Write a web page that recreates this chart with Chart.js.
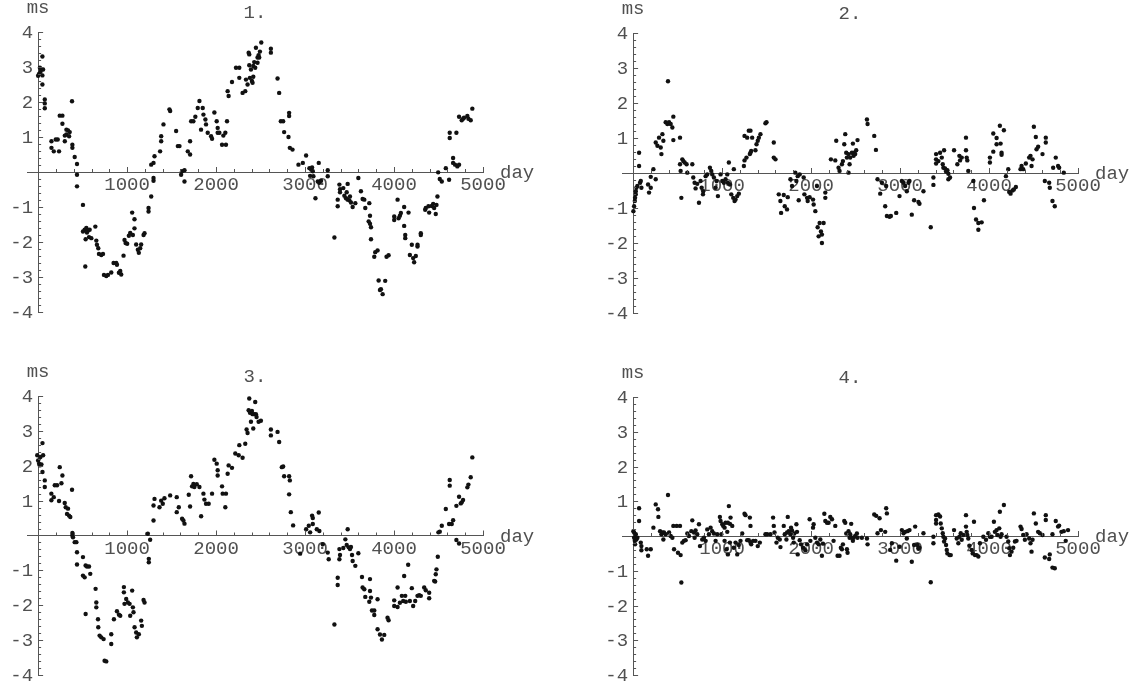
<!DOCTYPE html>
<html lang="en">
<head>
  <meta charset="UTF-8">
  <title>ms vs day</title>
  <script src="https://cdn.jsdelivr.net/npm/chart.js"></script>
  <style>
    body {
      margin: 0;
      background: #fff;
      width: 1142px;
      height: 691px;
      overflow: hidden;
      position: relative;
    }
    canvas {
      position: absolute;
    }
  </style>
</head>
<body>

<canvas id="c1" width="571" height="345" style="left:0;top:0"></canvas>
<canvas id="c2" width="571" height="345" style="left:571px;top:0"></canvas>
<canvas id="c3" width="571" height="346" style="left:0;top:345px"></canvas>
<canvas id="c4" width="571" height="346" style="left:571px;top:345px"></canvas>

<script>
  // tick labels on both axes
  const dayTicks = [1000, 2000, 3000, 4000, 5000];
  const msTicks = [-4, -3, -2, -1, 1, 2, 3, 4];
  const titles = ['1.', '2.', '3.', '4.'];

  // series 1
  const days1 = [0,10,20,26,37,48,56,48,48,75,
    75,75,150,150,176,198,220,235,243,273,
    273,300,300,318,318,336,355,348,381,385,
    385,411,437,437,437,504,504,523,530,542,
    549,560,572,579,598,534,643,654,661,676,
    684,710,729,740,766,785,822,848,878,886,
    908,923,934,960,971,983,1001,1020,1035,1057,
    1065,1083,1083,1102,1121,1132,1147,1158,1185,1196,
    1241,1241,1271,1297,1297,1271,1297,1308,1371,1383,
    1383,1409,1476,1484,1551,1570,1589,1618,1645,1607,
    1645,1682,1708,1708,1720,1745,1767,1794,1813,1831,
    1850,1858,1880,1887,1906,1944,1955,1981,2007,2018,
    2018,2037,2067,2082,2104,2111,2123,2130,2141,2179,
    2224,2261,2261,2298,2328,2336,2354,2366,2373,2373,
    2380,2392,2403,2410,2418,2418,2429,2440,2448,2466,
    2466,2478,2485,2493,2508,2616,2616,2691,2709,2728,
    2754,2765,2821,2821,2814,2829,2859,2926,2975,3012,
    3049,3068,3079,3087,3057,3094,3154,3143,3161,3180,
    3117,3255,3255,3330,3367,3367,3386,3393,3393,3430,
    3442,3460,3468,3479,3479,3498,3505,3516,3535,3565,
    3599,3628,3647,3666,3677,3722,3730,3715,3730,3741,
    3741,3778,3789,3815,3827,3853,3842,3872,3901,3916,
    3939,4002,4002,4040,4051,4066,4077,4114,4114,4126,
    4126,4163,4178,4200,4215,4226,4245,4264,4264,4301,
    4301,4350,4357,4387,4395,4424,4440,4451,4469,4477,
    4488,4496,4514,4537,4582,4619,4626,4626,4664,4664,
    4686,4701,4712,4731,4731,4761,4776,4787,4824,4836,
    4862,4880];
  const ms1 = [2.75,2.8,2.98,2.86,2.93,2.76,2.93,3.3,2.5,2.07,
    1.96,1.82,0.88,0.69,0.59,0.93,0.93,0.59,1.61,1.61,
    1.38,1.04,0.88,1.07,1.21,1.19,1.14,1.02,2.02,0.78,
    0.69,0.43,0.23,-0.08,-0.41,-0.94,-1.7,-1.65,-2.7,-1.6,
    -1.73,-1.67,-1.86,-1.65,-1.89,-1.92,-1.56,-1.96,-2.08,-2.18,
    -2.34,-2.37,-2.34,-2.94,-2.97,-2.94,-2.87,-2.6,-2.6,-2.65,
    -2.88,-2.83,-2.93,-2.39,-1.94,-2.03,-2.05,-1.82,-1.74,-1.16,
    -1.8,-1.35,-1.61,-2.07,-2.22,-2.31,-2.18,-2.07,-1.8,-1.75,
    -1.13,-1.03,-0.7,-0.25,-0.17,0.21,0.26,0.45,0.59,0.88,
    1.02,1.36,1.79,1.74,1.17,0.74,0.74,0.02,0.05,-0.08,
    -0.27,0.59,0.5,0.88,1.45,1.45,1.58,1.83,2.03,1.21,
    1.83,1.64,1.5,1.36,1.12,1.02,0.95,1.7,1.45,1.26,
    1.12,1.12,0.78,1.04,1.12,0.78,1.45,2.31,2.17,2.57,
    2.98,2.98,2.69,2.26,2.31,2.64,2.5,3.41,3.36,3.05,
    2.69,2.93,2.6,2.55,3.03,2.72,3.14,2.98,3.55,3.12,
    3.27,3.34,3.27,3.44,3.7,3.52,3.41,2.67,2.26,1.45,
    1.45,1.14,1.69,1.6,1.0,0.69,0.64,0.21,0.26,0.47,
    0.11,0.07,0.13,0.02,-0.11,-0.12,0.26,-0.27,-0.31,-0.25,
    -0.75,0.05,-0.12,-1.87,-0.79,-0.98,-0.36,-0.49,-0.58,-0.46,
    -0.68,-0.75,-0.58,-0.34,-0.79,-0.81,-0.7,-0.87,-1.0,-0.89,
    -0.17,-0.55,-0.77,-0.79,-1.03,-0.89,-1.25,-1.41,-1.48,-1.58,
    -1.92,-2.42,-2.29,-2.24,-3.1,-3.35,-3.37,-3.49,-3.11,-2.42,
    -2.38,-1.37,-1.27,-0.79,-1.32,-1.25,-1.17,-1.0,-1.54,-1.8,
    -1.89,-1.16,-2.37,-2.08,-2.46,-2.58,-2.4,-2.13,-2.08,-1.8,
    -1.75,-1.08,-1.03,-0.98,-1.16,-0.97,-0.91,-1.03,-1.2,-0.94,
    -0.7,-0.01,-0.2,-0.27,0.11,-0.22,1.12,0.97,0.4,0.26,
    0.21,1.12,0.16,0.21,1.58,1.48,1.52,1.55,1.6,1.52,
    1.48,1.81];

  // series 2
  const days2 = [3,11,19,22,30,30,37,48,67,67,
    78,86,93,179,168,198,198,228,254,254,
    273,291,310,318,329,340,366,385,392,404,
    422,441,452,452,527,527,534,542,553,564,
    579,601,609,665,676,691,702,721,740,758,
    770,785,788,815,833,863,878,889,908,927,
    938,953,983,1002,1020,1039,1058,1065,1076,1088,
    1103,1125,1140,1151,1170,1188,1132,1245,1252,1252,
    1274,1282,1300,1312,1319,1327,1319,1338,1375,1387,
    1401,1413,1431,1487,1499,1581,1581,1600,1637,1655,
    1663,1693,1704,1730,1738,1768,1786,1823,1835,1850,
    1861,1872,1917,1925,1955,1962,1984,2022,2029,2048,
    2066,2074,2085,2096,2111,2122,2122,2141,2160,2160,
    2223,2272,2283,2309,2320,2347,2358,2373,2384,2395,
    2403,2421,2421,2433,2440,2459,2470,2478,2485,2496,
    2507,2522,2628,2635,2710,2729,2747,2777,2796,2833,
    2852,2882,2897,2844,2957,2994,3020,3039,3057,3076,
    3095,3106,3132,3158,3207,3218,3263,3345,3375,3375,
    3405,3405,3405,3431,3450,3469,3480,3495,3487,3506,
    3517,3532,3543,3543,3562,3607,3644,3667,3674,3693,
    3741,3741,3749,3756,3767,3824,3831,3854,3880,3880,
    3917,3943,4010,4010,4048,4048,4085,4085,4122,4130,
    4141,4141,4167,4190,4216,4227,4242,4264,4279,4302,
    4354,4366,4384,4414,4451,4466,4478,4489,4504,4526,
    4534,4552,4601,4627,4638,4638,4676,4683,4713,4739,
    4721,4750,4776,4788,4840];
  const ms2 = [-1.09,-0.95,-0.8,-0.71,-0.61,-0.52,-0.42,-0.37,0.58,0.2,
    -0.28,-0.23,-0.42,-0.56,-0.33,-0.11,-0.42,0.11,-0.18,0.87,
    0.78,1.01,0.73,0.54,1.11,0.92,1.45,1.4,2.62,1.45,
    1.4,1.3,1.61,0.94,1.01,0.25,0.06,-0.71,0.39,0.34,
    0.3,0.25,0.01,0.25,-0.13,-0.28,-0.44,-0.31,-0.85,-0.23,
    -0.42,-0.61,-0.52,-0.09,-0.04,0.15,0.06,-0.04,-0.13,-0.42,
    -0.23,-0.66,-0.04,-0.23,-0.28,-0.18,-0.04,-0.28,0.3,-0.33,
    -0.61,-0.71,-0.8,-0.76,-0.66,-0.59,0.11,0.2,0.36,1.06,
    0.44,1.01,1.21,0.54,0.58,0.63,1.21,1.01,0.65,0.82,
    0.92,1.01,1.11,1.42,1.45,0.87,0.44,0.39,-0.61,-0.8,
    -1.14,-0.63,-0.95,-1.04,-0.69,-0.18,-0.37,0.01,-0.23,-0.09,
    -0.78,-0.04,-0.13,-0.61,-0.71,-0.8,-0.69,-0.76,-0.9,-1.09,
    -0.37,-1.55,-1.81,-1.43,-1.67,-1.76,-2.0,-1.43,-0.71,-0.56,
    0.39,0.36,0.92,0.15,0.06,0.25,0.34,0.82,1.11,0.58,
    0.44,0.01,0.54,0.25,0.44,0.58,0.84,0.49,0.58,0.54,
    0.65,0.94,1.53,1.4,1.06,0.66,-0.18,-0.59,-0.28,-0.95,
    -1.23,-1.25,-1.23,-0.37,-1.14,-0.66,-0.23,-0.28,-0.37,-0.52,
    -0.28,-0.23,-1.19,-0.78,-0.83,-0.88,-0.52,-1.55,-0.13,-0.34,
    0.54,0.39,0.27,0.34,0.58,0.44,0.25,0.65,0.15,0.13,
    0.04,0.08,-0.02,-0.18,-0.13,0.65,0.25,0.49,0.36,0.44,
    1.01,0.65,0.44,0.36,0.06,-0.23,-1.0,-1.33,-1.43,-1.62,
    -1.41,-0.78,0.44,0.3,1.13,0.61,1.0,0.82,1.35,0.84,
    0.58,0.52,1.22,-0.09,0.11,-0.54,-0.59,-0.5,-0.47,-0.4,
    0.11,0.2,0.11,0.27,0.44,0.49,0.2,0.39,1.32,1.03,
    0.68,0.75,0.54,-0.23,0.87,1.01,-0.28,-0.42,-0.8,-0.95,
    0.15,0.44,0.2,0.15,0.01];

  // series 3
  const days3 = [-10,0,11,19,26,37,49,56,49,75,
    75,149,149,176,187,213,235,243,262,273,
    299,310,325,336,347,362,381,385,385,392,
    411,430,437,437,504,504,523,534,549,572,
    586,534,646,654,654,673,676,691,710,736,
    747,766,822,822,852,886,908,923,964,964,
    971,990,1009,1028,1035,1057,1065,1072,1084,1102,
    1110,1132,1158,1166,1185,1196,1233,1259,1244,1244,
    1297,1297,1308,1364,1383,1401,1420,1484,1558,1558,
    1581,1618,1633,1645,1693,1708,1719,1730,1745,1756,
    1783,1813,1832,1858,1869,1887,1917,1955,1981,2007,
    2018,2018,2067,2074,2104,2111,2130,2141,2179,2216,
    2254,2261,2298,2328,2343,2354,2366,2373,2381,2392,
    2403,2410,2418,2429,2440,2448,2455,2478,2504,2616,
    2616,2691,2709,2739,2754,2765,2821,2829,2821,2840,
    2866,2945,3012,3042,3057,3079,3087,3087,3132,3154,
    3161,3199,3255,3266,3330,3367,3367,3386,3386,3393,
    3430,3453,3479,3468,3490,3505,3516,3528,3535,3565,
    3599,3640,3647,3666,3677,3730,3730,3741,3722,3752,
    3778,3778,3815,3815,3842,3864,3890,3927,3939,4002,
    4002,4040,4040,4066,4088,4103,4114,4126,4133,4159,
    4178,4200,4215,4238,4264,4283,4301,4339,4357,4395,
    4395,4451,4462,4469,4477,4492,4499,4514,4537,4582,
    4619,4626,4626,4649,4664,4701,4701,4731,4750,4761,
    4776,4731,4824,4836,4862,4880];
  const ms3 = [2.3,2.15,2.06,2.01,2.25,2.04,2.65,2.3,1.82,1.58,
    1.39,1.2,1.01,1.1,1.44,1.44,0.99,1.96,1.5,1.72,
    0.93,0.81,0.62,0.77,0.57,0.53,1.31,0.07,0,-0.05,
    -0.19,-0.19,-0.48,-0.83,-0.62,-1.15,-1.2,-0.86,-0.89,-0.89,
    -1.1,-2.25,-1.53,-1.92,-2.06,-2.4,-2.63,-2.87,-2.92,-2.97,
    -3.59,-3.61,-2.83,-3.11,-2.4,-2.17,-2.27,-2.3,-1.48,-1.63,
    -1.96,-1.82,-1.92,-1.96,-2.3,-1.58,-2.06,-2.2,-2.63,-2.78,
    -2.92,-2.83,-2.44,-2.59,-1.85,-1.92,0.05,-0.12,-0.67,-0.77,
    0.86,0.43,1.05,0.81,1.0,0.91,1.07,1.15,1.1,0.67,
    0.81,0.48,0.43,0.34,1.17,0.83,1.7,1.41,1.48,1.39,
    1.47,1.39,0.55,1.2,1.03,0.91,0.91,1.2,2.17,2.06,
    1.87,1.72,1.41,1.2,0.81,1.2,1.77,2.01,1.94,2.35,
    2.3,2.59,2.23,2.63,3.04,2.94,3.59,3.93,3.52,3.26,
    3.57,3.48,3.07,3.48,3.83,3.48,3.4,3.26,3.29,3.04,
    2.87,2.97,2.68,1.96,1.98,1.7,1.7,1.58,1.18,0.67,
    0.29,-0.52,0.18,0.28,0.09,0.57,0.5,0.33,0.18,0.66,
    0.13,-0.25,-0.49,-0.68,-2.55,-1.21,-1.42,-0.39,-0.68,-0.56,
    -0.36,-0.11,0.18,-0.27,-0.34,-0.39,-0.33,-0.56,-0.73,-0.87,
    -0.51,-1.19,-1.49,-1.54,-1.76,-1.25,-1.59,-1.78,-1.9,-2.15,
    -2.15,-2.28,-1.83,-2.69,-2.84,-2.98,-2.85,-2.36,-2.43,-1.86,
    -2.02,-1.49,-2.05,-1.93,-1.73,-1.88,-1.16,-1.73,-1.9,-0.84,
    -1.88,-1.51,-2.02,-1.88,-1.73,-1.71,-1.73,-1.49,-1.57,-1.64,
    -1.8,-1.3,-1.32,-1.11,-0.97,-0.61,0.09,0.11,0.28,0.76,
    0.33,1.59,1.43,0.33,0.44,-0.13,0.85,1.11,0.92,0.95,
    1.02,-0.23,1.38,1.46,1.67,2.24];

  // series 4
  const days4 = [3,11,19,22,11,30,37,48,67,67,
    86,93,93,153,168,198,228,254,280,284,
    303,318,329,347,366,340,392,404,422,441,
    452,460,490,504,527,534,542,553,571,590,
    609,627,654,665,684,691,702,721,740,751,
    777,796,815,833,852,871,889,908,927,945,
    975,983,991,1002,1013,1028,1039,1058,1065,1076,
    1088,1095,1114,1028,1050,1065,1088,1132,1151,1170,
    1188,1207,1226,1252,1263,1282,1300,1312,1319,1319,
    1327,1349,1375,1401,1424,1487,1506,1543,1573,1581,
    1589,1611,1626,1648,1656,1693,1704,1723,1730,1738,
    1749,1768,1775,1786,1798,1805,1812,1835,1842,1850,
    1872,1887,1910,1936,1955,1984,1992,2022,2029,2048,
    2067,2085,2104,2122,2134,2149,2160,2179,2197,2216,
    2235,2253,2272,2298,2320,2335,2347,2358,2373,2384,
    2395,2403,2410,2421,2433,2440,2451,2459,2470,2478,
    2496,2515,2522,2571,2628,2635,2710,2732,2747,2770,
    2785,2833,2844,2852,2889,2908,2957,2994,3020,3039,
    3057,3076,3084,3106,3132,3158,3170,3196,3207,3218,
    3263,3345,3375,3375,3405,3405,3405,3431,3450,3457,
    3469,3480,3487,3495,3506,3517,3525,3532,3555,3570,
    3607,3637,3655,3667,3682,3693,3711,3741,3741,3749,
    3756,3767,3779,3805,3816,3831,3842,3861,3880,3898,
    3936,3966,3992,4010,4029,4055,4066,4085,4093,4115,
    4122,4130,4141,4167,4197,4216,4227,4235,4253,4272,
    4291,4309,4354,4366,4384,4403,4422,4451,4466,4478,
    4489,4504,4526,4552,4571,4601,4627,4638,4638,4676,
    4683,4713,4713,4739,4750,4776,4788,4814,4840,4862,
    4888];
  const ms4 = [0.14,-0.05,-0.14,-0.24,0.1,0.05,-0.1,-0.05,0.8,0.43,
    -0.19,-0.29,-0.41,-0.38,-0.57,-0.38,0.24,0.91,0.77,0.55,
    0.14,0.05,0.1,0.1,0.05,-0.1,1.18,0.1,0,-0.05,
    0.29,-0.38,0.29,-0.48,0.29,-0.55,-1.34,-0.19,-0.14,-0.12,
    0.07,0,0.14,0.45,0.1,-0.05,0.16,0.05,0.34,-0.29,
    -0.1,-0.05,-0.14,0.19,0.05,0.24,0.14,0.07,-0.14,0.05,
    0.55,0.43,0.05,0.34,0.29,0.24,0.38,0.12,0.38,0.86,
    0.35,0.53,0.29,-0.14,-0.38,-0.53,-0.19,-0.34,-0.19,-0.53,
    -0.26,-0.14,0.07,0.64,0.6,-0.12,-0.12,0.53,0.29,-0.19,
    -0.24,-0.14,-0.14,-0.29,-0.19,0.05,0.05,0.05,0.53,0.29,
    0.1,-0.19,-0.05,-0.1,-0.32,0.29,0.05,-0.1,0.1,0.55,
    0.14,0.05,0.24,0.16,-0.05,-0.19,0.07,0.34,0.12,-0.53,
    -0.12,-0.24,-0.34,-0.41,-0.24,0.48,-0.14,0.24,0.34,-0.05,
    -0.19,-0.24,-0.1,-0.57,-0.22,0.64,0.43,0.38,0.38,0.55,
    0.48,-0.14,0.29,-0.57,-0.57,-0.34,-0.38,-0.24,0.43,0.38,
    0.07,-0.38,-0.48,0.14,-0.05,0.05,0.35,-0.05,-0.14,-0.05,
    0,0.07,-0.05,-0.05,-0.07,-0.24,0.62,0.58,0.08,0.51,
    0.17,0.12,0.8,0.65,-0.4,-0.21,-0.71,-0.31,0.17,0.08,
    0.12,-0.07,0.14,0.17,-0.74,-0.26,0.27,-0.26,-0.37,-0.34,
    0.08,-1.33,-0.02,-0.21,0.6,0.46,0.36,0.62,0.56,0.36,
    0.22,0.08,-0.02,-0.16,-0.07,-0.26,-0.4,-0.5,-0.55,-0.55,
    0.17,-0.07,-0.21,-0.02,0.08,-0.11,0.03,0.6,0.27,0.12,
    0.03,-0.07,-0.28,-0.4,-0.5,0.41,-0.55,-0.55,-0.59,-0.21,
    -0.02,-0.11,0.08,-0.02,-0.02,0.41,0.12,0.17,0.03,0.22,
    0.7,-0.02,0.05,0.89,-0.02,-0.16,-0.35,-0.55,-0.45,-0.34,
    -0.16,-0.14,0.27,0.2,0.03,-0.11,0.05,-0.07,-0.21,-0.45,
    -0.11,0.65,0.36,0.12,0.08,0.03,-0.62,0.6,0.46,-0.66,
    -0.53,0.05,-0.91,-0.93,0.43,0.27,0.3,0.12,0.14,-0.14,
    0.17];

  const FONT = '"Liberation Mono", "Courier New", monospace';
  const textColor = '#505050';
  const axisColor = '#555';

  // inward tick marks, y labels left of the axis, axis names, panel number
  const decor = {
    id: 'decor',
    afterDraw(chart, args, opts) {
      const { ctx, chartArea: area, scales: { x, y } } = chart;
      const x0 = x.getPixelForValue(0);
      const y0 = y.getPixelForValue(0);
      ctx.save();
      ctx.strokeStyle = axisColor;
      ctx.lineWidth = 1;
      ctx.beginPath();
      for (let d = 200; d <= 5000; d += 200) {
        const px = Math.round(x.getPixelForValue(d)) + 0.5;
        const len = d % 1000 === 0 ? 5 : 3;
        ctx.moveTo(px, y0);
        ctx.lineTo(px, y0 - len);
      }
      for (let i = -20; i <= 20; i++) {
        if (i === 0) continue;
        const py = Math.round(y.getPixelForValue(i / 5)) + 0.5;
        const len = i % 5 === 0 ? 5 : 3;
        ctx.moveTo(x0, py);
        ctx.lineTo(x0 + len, py);
      }
      ctx.stroke();

      ctx.fillStyle = textColor;
      ctx.font = '19px ' + FONT;

      ctx.textAlign = 'right';
      ctx.textBaseline = 'middle';
      msTicks.forEach(v => ctx.fillText(String(v), x0 - 5, y.getPixelForValue(v) + 1));

      ctx.textBaseline = 'alphabetic';
      ctx.textAlign = 'center';
      ctx.fillText('ms', x0, area.top - 19);
      ctx.fillText(opts.title, (area.left + area.right) / 2, area.top - 14);
      ctx.textAlign = 'left';
      ctx.fillText('day', area.right + 17, y0 + 6);
      ctx.restore();
    }
  };

  function makePanel(id, days, ms, title, pad) {
    const points = days.map((d, i) => ({ x: d, y: ms[i] }));
    return new Chart(document.getElementById(id), {
      type: 'scatter',
      data: {
        datasets: [{
          data: points,
          pointRadius: 2.2,
          pointBorderWidth: 0,
          pointBackgroundColor: '#111',
          clip: false
        }]
      },
      options: {
        responsive: false,
        animation: false,
        devicePixelRatio: 1,
        events: [],
        layout: { autoPadding: false, padding: pad },
        plugins: {
          legend: { display: false },
          tooltip: { enabled: false },
          decor: { title: title }
        },
        scales: {
          x: {
            type: 'linear',
            min: -125,
            max: 5000,
            position: { y: 0 },
            grid: { display: false, drawTicks: false },
            border: { display: true, color: axisColor, width: 1 },
            afterBuildTicks: s => { s.ticks = dayTicks.map(v => ({ value: v })); },
            ticks: {
              autoSkip: false,
              maxRotation: 0,
              padding: 2,
              color: textColor,
              font: { family: FONT, size: 19 },
              callback: v => String(v)
            }
          },
          y: {
            type: 'linear',
            min: -4,
            max: 4,
            position: { x: 0 },
            grid: { display: false, drawTicks: false },
            border: { display: true, color: axisColor, width: 1 },
            afterBuildTicks: s => { s.ticks = msTicks.map(v => ({ value: v })); },
            ticks: { display: false }
          }
        }
      },
      plugins: [decor]
    });
  }

  makePanel('c1', days1, ms1, titles[0], { left: 27, right: 88, top: 32, bottom: 33 });
  makePanel('c2', days2, ms2, titles[1], { left: 51, right: 64, top: 33, bottom: 32 });
  makePanel('c3', days3, ms3, titles[2], { left: 27, right: 88, top: 51, bottom: 16 });
  makePanel('c4', days4, ms4, titles[3], { left: 51, right: 64, top: 52, bottom: 16 });
</script>

</body>
</html>
